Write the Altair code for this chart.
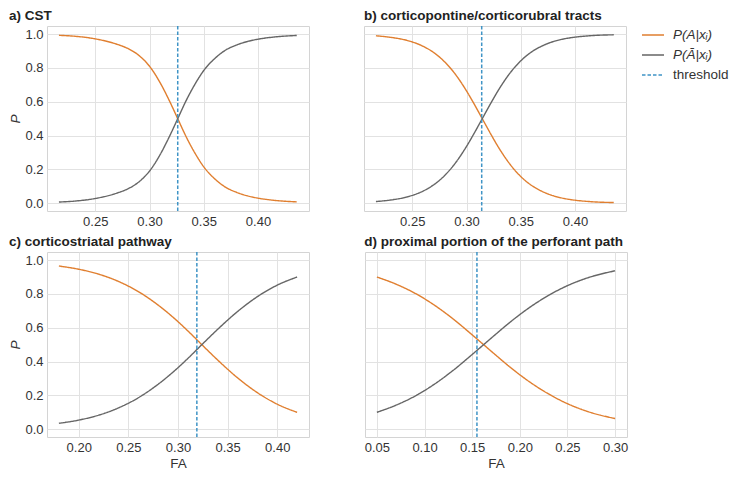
import altair as alt
import pandas as pd

# ---------------- data ----------------
titles = ["a) CST", "b) corticopontine/corticorubral tracts",
          "c) corticostriatal pathway", "d) proximal portion of the perforant path"]

fa_a = [0.2165, 0.23, 0.25, 0.27, 0.28, 0.29, 0.30, 0.31, 0.318, 0.326, 0.334, 0.342,
        0.35, 0.36, 0.37, 0.38, 0.39, 0.40, 0.415, 0.4357]
pa_a = [0.993, 0.988, 0.972, 0.94, 0.915, 0.875, 0.81, 0.71, 0.61, 0.50, 0.39, 0.295,
        0.215, 0.145, 0.095, 0.065, 0.044, 0.030, 0.017, 0.008]
pn_a = [0.007, 0.012, 0.028, 0.06, 0.085, 0.125, 0.19, 0.29, 0.39, 0.50, 0.61, 0.705,
        0.785, 0.855, 0.905, 0.935, 0.956, 0.970, 0.983, 0.992]

fa_b = [0.2165, 0.23, 0.245, 0.26, 0.27, 0.28, 0.29, 0.30, 0.307, 0.3145, 0.322, 0.33,
        0.34, 0.35, 0.36, 0.37, 0.38, 0.39, 0.40, 0.415, 0.4357]
pa_b = [0.990, 0.981, 0.963, 0.928, 0.890, 0.835, 0.760, 0.664, 0.587, 0.500, 0.413, 0.325,
        0.231, 0.158, 0.105, 0.069, 0.044, 0.028, 0.018, 0.009, 0.004]
pn_b = [0.010, 0.019, 0.037, 0.072, 0.110, 0.165, 0.240, 0.336, 0.413, 0.500, 0.587, 0.675,
        0.769, 0.842, 0.895, 0.931, 0.956, 0.972, 0.982, 0.991, 0.996]

fa_c = [0.18, 0.20, 0.22, 0.24, 0.26, 0.28, 0.30, 0.31, 0.324, 0.34, 0.36, 0.38, 0.40, 0.42]
pa_c = [0.965, 0.946, 0.917, 0.874, 0.814, 0.734, 0.636, 0.581, 0.500, 0.409, 0.304, 0.216,
        0.148, 0.100]
pn_c = [0.035, 0.054, 0.083, 0.126, 0.186, 0.266, 0.364, 0.419, 0.500, 0.591, 0.696, 0.784,
        0.852, 0.900]

fa_d = [0.05, 0.07, 0.09, 0.11, 0.13, 0.15, 0.162, 0.175, 0.19, 0.21, 0.23, 0.25, 0.27, 0.30]
pa_d = [0.900, 0.858, 0.804, 0.735, 0.652, 0.558, 0.500, 0.437, 0.366, 0.281, 0.209, 0.151,
        0.107, 0.063]
pn_d = [0.100, 0.142, 0.196, 0.265, 0.348, 0.442, 0.500, 0.563, 0.634, 0.719, 0.791, 0.849,
        0.893, 0.937]

thresholds = [0.326, 0.314, 0.319, 0.155]

x_domains = [[0.2055, 0.447], [0.2055, 0.447], [0.168, 0.432], [0.0375, 0.3125]]
x_ticks = [[0.25, 0.30, 0.35, 0.40], [0.25, 0.30, 0.35, 0.40],
           [0.20, 0.25, 0.30, 0.35, 0.40], [0.05, 0.10, 0.15, 0.20, 0.25, 0.30]]
y_ticks = [0.0, 0.2, 0.4, 0.6, 0.8, 1.0]
y_domain = [-0.046, 1.048]

series = ["P(A|xᵢ)", "P(Ā|xᵢ)", "threshold"]
colors = ["#e07f30", "#666666", "#3f94c6"]
dashes = [[1, 0], [1, 0], [3.5, 2]]

curves = [(fa_a, pa_a, pn_a), (fa_b, pa_b, pn_b), (fa_c, pa_c, pn_c), (fa_d, pa_d, pn_d)]

W, H = 262, 185

color_scale = alt.Scale(domain=series, range=colors)
dash_scale = alt.Scale(domain=series, range=dashes)
leg = alt.Legend(title=None, orient="none", legendX=594, legendY=-3)


def panel(i):
    fa, pa, pn = curves[i]
    df = pd.DataFrame({
        "FA": fa + fa,
        "P": pa + pn,
        "series": [series[0]] * len(fa) + [series[1]] * len(fa),
    })
    tdf = pd.DataFrame({"FA": [thresholds[i]], "series": [series[2]]})
    left = i % 2 == 0
    bottom = i >= 2
    xaxis = alt.Axis(values=x_ticks[i], format=".2f", title="FA" if bottom else None)
    if left:
        yaxis = alt.Axis(values=y_ticks, format=".1f", title="P", titleFontStyle="italic")
    else:
        yaxis = alt.Axis(values=y_ticks, labels=False, title=None)
    xs = alt.Scale(domain=x_domains[i], nice=False, zero=False)
    lines = alt.Chart(df).mark_line(interpolate="monotone", strokeWidth=1.4).encode(
        x=alt.X("FA:Q", scale=xs, axis=xaxis),
        y=alt.Y("P:Q", scale=alt.Scale(domain=y_domain, nice=False, zero=False), axis=yaxis),
        color=alt.Color("series:N", scale=color_scale, legend=leg),
        strokeDash=alt.StrokeDash("series:N", scale=dash_scale, legend=leg),
    )
    rule = alt.Chart(tdf).mark_rule(strokeWidth=1.5).encode(
        x=alt.X("FA:Q", scale=xs),
        color=alt.Color("series:N", scale=color_scale, legend=leg),
        strokeDash=alt.StrokeDash("series:N", scale=dash_scale, legend=leg),
    )
    return alt.layer(lines, rule).properties(
        width=W, height=H, title=alt.TitleParams(titles[i]))


top = alt.hconcat(panel(0), panel(1), spacing=53)
bot = alt.hconcat(panel(2), panel(3), spacing=53)

chart = alt.vconcat(top, bot, spacing=5).properties(padding=0).configure_view(
    stroke="#d4d4d4", strokeWidth=1
).configure_axis(
    grid=True, gridColor="#e2e2e2", gridWidth=1, domain=False, ticks=False,
    labelFont="Liberation Sans", labelFontSize=13, labelColor="#333333", labelPadding=4,
    titleFont="Liberation Sans", titleFontSize=13.5, titleFontWeight="normal",
    titleColor="#333333", titlePadding=2,
).configure_title(
    font="Liberation Sans", fontSize=13.5, fontWeight="bold", color="#222222",
    anchor="start", offset=3,
).configure_legend(
    symbolType="stroke", symbolSize=484,
    symbolStrokeWidth=1.5, labelFont="Liberation Sans", labelFontSize=13.5,
    labelColor="#333333", rowPadding=1, labelOffset=8,
    labelFontStyle=alt.ExprRef("datum.label == 'threshold' ? 'normal' : 'italic'"),
)

chart.save("out.html", embed_options={"renderer": "svg", "actions": False})
